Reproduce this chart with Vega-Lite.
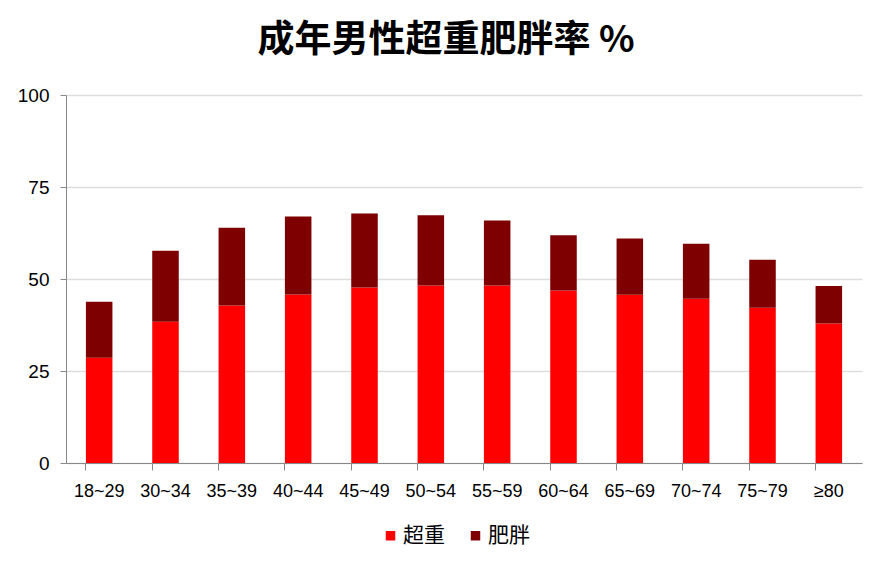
{
  "$schema": "https://vega.github.io/schema/vega-lite/v6.json",
  "autosize": "none",
  "width": 796,
  "height": 368,
  "padding": {"left": 66, "top": 95, "right": 32, "bottom": 108},
  "background": "white",
  "title": {
    "text": "成年男性超重肥胖率 %",
    "font": "Noto Sans CJK SC",
    "fontSize": 37,
    "fontWeight": "bold",
    "color": "black",
    "anchor": "middle",
    "dx": -18,
    "offset": 26
  },
  "data": {
    "values": [
      {"age": "18~29", "type": "超重", "value": 28.6},
      {"age": "18~29", "type": "肥胖", "value": 15.2},
      {"age": "30~34", "type": "超重", "value": 38.4},
      {"age": "30~34", "type": "肥胖", "value": 19.3},
      {"age": "35~39", "type": "超重", "value": 42.8},
      {"age": "35~39", "type": "肥胖", "value": 21.1},
      {"age": "40~44", "type": "超重", "value": 45.8},
      {"age": "40~44", "type": "肥胖", "value": 21.2},
      {"age": "45~49", "type": "超重", "value": 47.7},
      {"age": "45~49", "type": "肥胖", "value": 20.1},
      {"age": "50~54", "type": "超重", "value": 48.2},
      {"age": "50~54", "type": "肥胖", "value": 19.1},
      {"age": "55~59", "type": "超重", "value": 48.2},
      {"age": "55~59", "type": "肥胖", "value": 17.7},
      {"age": "60~64", "type": "超重", "value": 46.9},
      {"age": "60~64", "type": "肥胖", "value": 15.0},
      {"age": "65~69", "type": "超重", "value": 45.7},
      {"age": "65~69", "type": "肥胖", "value": 15.3},
      {"age": "70~74", "type": "超重", "value": 44.6},
      {"age": "70~74", "type": "肥胖", "value": 15.0},
      {"age": "75~79", "type": "超重", "value": 42.2},
      {"age": "75~79", "type": "肥胖", "value": 13.0},
      {"age": "≥80", "type": "超重", "value": 37.9},
      {"age": "≥80", "type": "肥胖", "value": 10.2}
    ]
  },
  "mark": {"type": "bar"},
  "encoding": {
    "x": {
      "field": "age",
      "type": "nominal",
      "sort": null,
      "scale": {"paddingInner": 0.6, "paddingOuter": 0.3},
      "axis": {
        "title": null,
        "labelAngle": 0,
        "labelFont": "Liberation Sans",
        "labelFontSize": 18,
        "labelColor": "black",
        "labelPadding": 12,
        "domainColor": "#888888",
        "tickColor": "#888888",
        "tickSize": 7,
        "bandPosition": 0,
        "grid": false
      }
    },
    "y": {
      "field": "value",
      "type": "quantitative",
      "stack": "zero",
      "scale": {"domain": [0, 100], "nice": false},
      "axis": {
        "title": null,
        "values": [0, 25, 50, 75, 100],
        "labelFont": "Liberation Sans",
        "labelFontSize": 19,
        "labelColor": "black",
        "labelPadding": 11,
        "domainColor": "#888888",
        "tickColor": "#888888",
        "tickSize": 6,
        "gridColor": "#dddddd",
        "gridWidth": 1.5
      }
    },
    "color": {
      "field": "type",
      "type": "nominal",
      "scale": {"domain": ["超重", "肥胖"], "range": ["#ff0000", "#7f0000"]},
      "legend": {
        "title": null,
        "orient": "none",
        "direction": "horizontal",
        "legendX": 314,
        "legendY": 430,
        "symbolType": "square",
        "symbolSize": 90,
        "symbolStrokeWidth": 0,
        "labelFont": "Noto Sans CJK SC",
        "labelFontSize": 21,
        "labelColor": "black",
        "labelOffset": 2,
        "columnPadding": 20
      }
    },
    "order": {"field": "type", "sort": "descending"}
  },
  "config": {"view": {"stroke": null}}
}
